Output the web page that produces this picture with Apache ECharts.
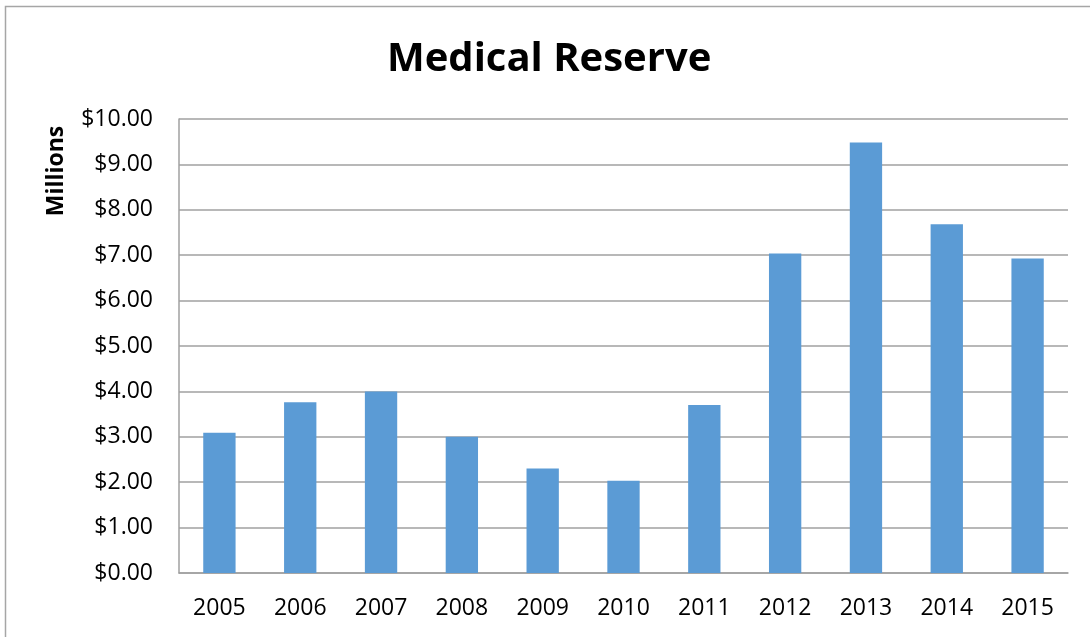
<!DOCTYPE html>
<html>
<head>
<meta charset="utf-8">
<script src="https://cdn.jsdelivr.net/npm/echarts@6/dist/echarts.min.js"></script>
<style>
  html, body { margin: 0; padding: 0; background: #fff; }
  #chart { width: 1090px; height: 637px; }
</style>
</head>
<body>
<div id="chart"></div>
<script>
// 数据
var years = ['2005', '2006', '2007', '2008', '2009', '2010', '2011', '2012', '2013', '2014', '2015'];
var reserve = [3.09, 3.76, 4.00, 3.00, 2.30, 2.03, 3.70, 7.04, 9.48, 7.68, 6.93];

var chart = echarts.init(document.getElementById('chart'));
var font = 'Open Sans';

var option = {
    animation: false,
    title: {
        text: 'Medical Reserve',
        left: 382,
        top: 35,
        textStyle: {
            fontFamily: font,
            fontSize: 40,
            fontWeight: 'bold',
            color: '#000'
        }
    },
    graphic: [{
        type: 'rect',
        shape: { x: 5.5, y: 6.5, width: 1200, height: 800 },
        style: { fill: 'none', stroke: '#a6a6a6', lineWidth: 1.5 },
        silent: true
    }, {
        type: 'text',
        x: 56,
        y: 171,
        rotation: Math.PI / 2,
        style: {
            text: 'Millions',
            fontFamily: font,
            fontSize: 23,
            fontWeight: 'bold',
            fill: '#000',
            align: 'center',
            verticalAlign: 'middle'
        }
    }],
    grid: {
        left: 179,
        right: 22,
        top: 119,
        bottom: 64
    },
    xAxis: {
        type: 'category',
        data: years,
        axisLine: { lineStyle: { color: '#a0a0a0', width: 1.5 } },
        axisTick: { show: false },
        axisLabel: {
            fontFamily: font,
            fontSize: 23,
            color: '#000',
            margin: 24
        }
    },
    yAxis: {
        type: 'value',
        min: 0,
        max: 10,
        interval: 1,
        axisLine: { show: true, lineStyle: { color: '#a0a0a0', width: 1.5 } },
        axisTick: { show: false },
        splitLine: { lineStyle: { color: '#a0a0a0', width: 1.5 } },
        axisLabel: {
            fontFamily: font,
            fontSize: 23,
            color: '#000',
            margin: 26,
            formatter: function (v) { return '$' + v.toFixed(2); }
        }
    },
    series: [{
        type: 'bar',
        data: reserve,
        barWidth: '40%',
        itemStyle: { color: '#5b9bd5' }
    }]
};

chart.setOption(option);
</script>
</body>
</html>
